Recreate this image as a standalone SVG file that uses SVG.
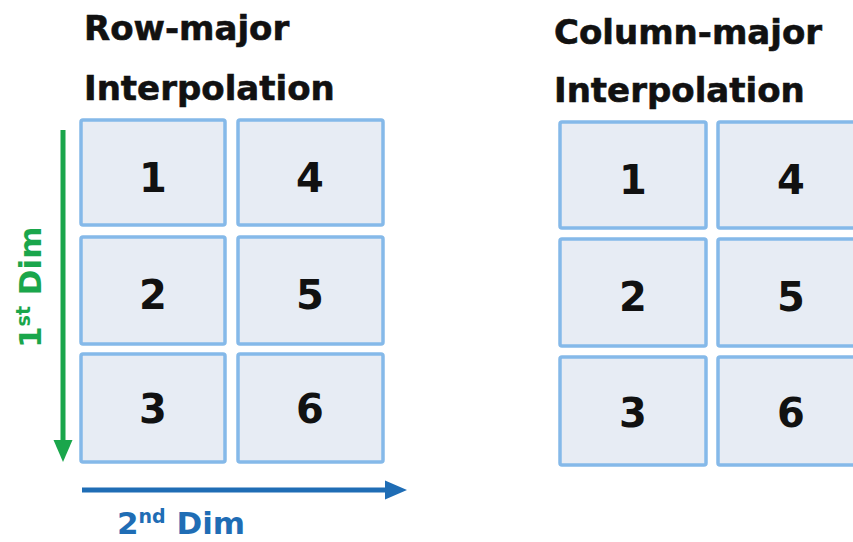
<svg xmlns="http://www.w3.org/2000/svg" width="853" height="542" viewBox="0 0 853 542">
<style>
.cell{fill:#e7ecf4;stroke:#85b9e9;stroke-width:3.5}
.num{font-family:"DejaVu Sans",sans-serif;font-weight:bold;font-size:40px;fill:#111;text-anchor:middle}
.title{font-family:"DejaVu Sans",sans-serif;font-weight:bold;font-size:34px;fill:#111;stroke:#111;stroke-width:0.6}
.dim{font-family:"DejaVu Sans",sans-serif;font-weight:bold;font-size:31px}
</style>
<rect width="853" height="542" fill="#ffffff"/>
<text class="title" x="84" y="40">Row-major</text>
<text class="title" x="84" y="100">Interpolation</text>
<text class="title" x="554" y="44">Column-major</text>
<text class="title" x="554" y="102">Interpolation</text>
<g id="left-grid">
<g id="L1"><rect class="cell" x="81" y="120" width="144" height="105" rx="2"/><text class="num" x="153" y="192">1</text></g>
<g id="L4"><rect class="cell" x="238" y="120" width="145" height="105" rx="2"/><text class="num" x="310" y="192">4</text></g>
<g id="L2"><rect class="cell" x="81" y="237" width="144" height="107" rx="2"/><text class="num" x="153" y="309">2</text></g>
<g id="L5"><rect class="cell" x="238" y="237" width="145" height="107" rx="2"/><text class="num" x="310" y="309">5</text></g>
<g id="L3"><rect class="cell" x="81" y="354" width="144" height="108" rx="2"/><text class="num" x="153" y="423">3</text></g>
<g id="L6"><rect class="cell" x="238" y="354" width="145" height="108" rx="2"/><text class="num" x="310" y="423">6</text></g>
</g>
<g id="right-grid">
<g id="R1"><rect class="cell" x="560" y="122" width="146" height="106" rx="2"/><text class="num" x="633" y="194">1</text></g>
<g id="R4"><rect class="cell" x="718" y="122" width="146" height="106" rx="2"/><text class="num" x="791" y="194">4</text></g>
<g id="R2"><rect class="cell" x="560" y="239" width="146" height="107" rx="2"/><text class="num" x="633" y="311">2</text></g>
<g id="R5"><rect class="cell" x="718" y="239" width="146" height="107" rx="2"/><text class="num" x="791" y="311">5</text></g>
<g id="R3"><rect class="cell" x="560" y="357" width="146" height="108" rx="2"/><text class="num" x="633" y="427">3</text></g>
<g id="R6"><rect class="cell" x="718" y="357" width="146" height="108" rx="2"/><text class="num" x="791" y="427">6</text></g>
</g>
<g id="connectors">
<line x1="63" y1="130" x2="63" y2="442" stroke="#1aa64b" stroke-width="5"/>
<polygon points="53.5,440 72.5,440 63,462" fill="#1aa64b"/>
<line x1="82" y1="490" x2="388" y2="490" stroke="#1f6db5" stroke-width="5"/>
<polygon points="385,480.5 385,499.5 407,490" fill="#1f6db5"/>
</g>
<text class="dim" fill="#1aa64b" transform="translate(41,348) rotate(-90)">1<tspan font-size="19" dy="-11">st</tspan><tspan dy="11"> Dim</tspan></text>
<text class="dim" fill="#1f6db5" x="117" y="534">2<tspan font-size="19" dy="-11">nd</tspan><tspan dy="11"> Dim</tspan></text>
</svg>
